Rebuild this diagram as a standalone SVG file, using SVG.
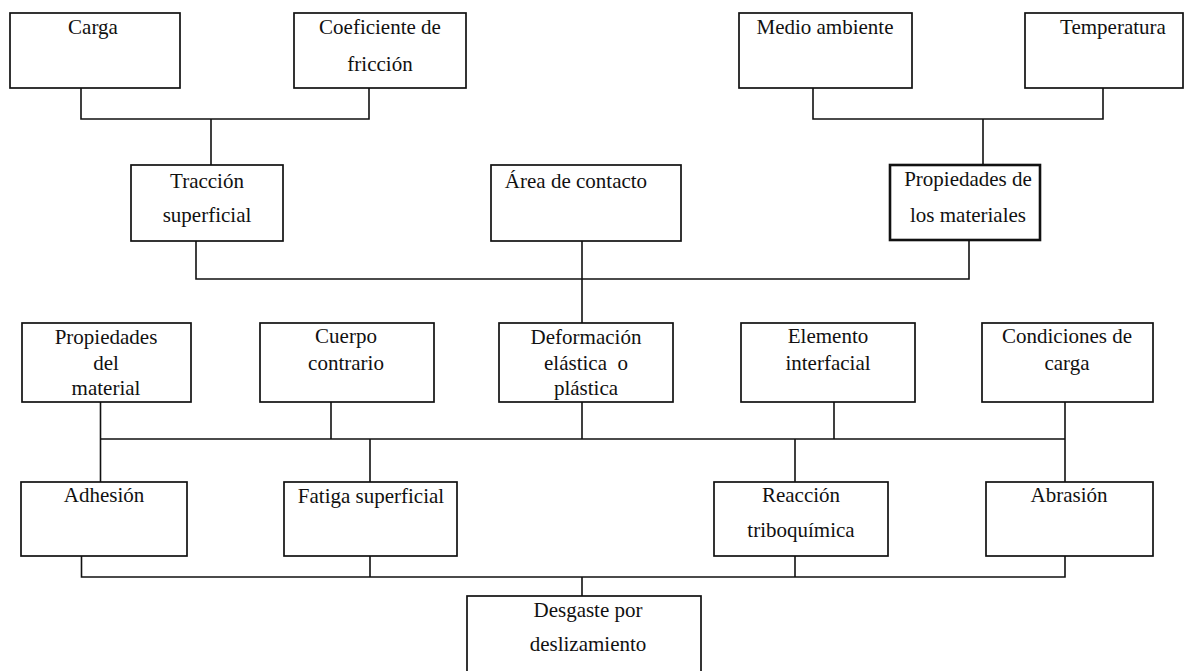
<svg xmlns="http://www.w3.org/2000/svg" width="1185" height="671" viewBox="0 0 1185 671">
<style>
.box{fill:#fff;stroke:#111;stroke-width:1.7}
.thick{stroke-width:2.6}
.ln{fill:none;stroke:#111;stroke-width:1.6}
text{font-family:"Liberation Serif","Times New Roman",serif;font-size:21px;fill:#111;text-anchor:middle}
</style>
<rect width="1185" height="671" fill="#fff"/>
<g id="connectors">
<path class="ln" d="M81,88V119H369V88M211,119V165"/>
<path class="ln" d="M813,88V119H1103V88M983,119V165"/>
<path class="ln" d="M196,241V279H969V240M582,241V323"/>
<path class="ln" d="M100.5,402V482M331,402V439M582,402V439M834,402V439M1065,402V482M100.5,439H1065M370,439V482M795,439V482"/>
<path class="ln" d="M81.5,556V577H1065V556M370,556V577M795,556V577M582,577V596"/>
</g>
<g id="carga"><rect class="box" x="10" y="13" width="170" height="75"/><text x="93" y="34">Carga</text></g>
<g id="coeficiente"><rect class="box" x="294" y="13" width="172" height="75"/><text x="380" y="34">Coeficiente de</text><text x="380" y="71">fricción</text></g>
<g id="medio"><rect class="box" x="739" y="13" width="173" height="75"/><text x="825" y="34">Medio ambiente</text></g>
<g id="temperatura"><rect class="box" x="1025" y="13" width="158" height="75"/><text x="1113" y="34">Temperatura</text></g>
<g id="traccion"><rect class="box" x="131" y="165" width="152" height="76"/><text x="207" y="188">Tracción</text><text x="207" y="222">superficial</text></g>
<g id="area"><rect class="box" x="491" y="165" width="190" height="76"/><text x="576" y="188">Área de contacto</text></g>
<g id="propiedades-materiales"><rect class="box thick" x="890" y="165" width="150" height="75"/><text x="968" y="186">Propiedades de</text><text x="968" y="222">los materiales</text></g>
<g id="propiedades-material"><rect class="box" x="22" y="323" width="169" height="79"/><text x="106" y="344">Propiedades</text><text x="106" y="370">del</text><text x="106" y="395">material</text></g>
<g id="cuerpo"><rect class="box" x="260" y="323" width="174" height="79"/><text x="346" y="343">Cuerpo</text><text x="346" y="370">contrario</text></g>
<g id="deformacion"><rect class="box" x="499" y="323" width="174" height="79"/><text x="586" y="344">Deformación</text><text x="586" y="370" xml:space="preserve">elástica  o</text><text x="586" y="395">plástica</text></g>
<g id="elemento"><rect class="box" x="741" y="323" width="174" height="79"/><text x="828" y="343">Elemento</text><text x="828" y="370">interfacial</text></g>
<g id="condiciones"><rect class="box" x="982" y="323" width="171" height="79"/><text x="1067" y="343">Condiciones de</text><text x="1067" y="370">carga</text></g>
<g id="adhesion"><rect class="box" x="21" y="482" width="166" height="74"/><text x="104" y="502">Adhesión</text></g>
<g id="fatiga"><rect class="box" x="284" y="482" width="173" height="74"/><text x="371" y="503">Fatiga superficial</text></g>
<g id="reaccion"><rect class="box" x="714" y="482" width="174" height="74"/><text x="801" y="502">Reacción</text><text x="801" y="537">triboquímica</text></g>
<g id="abrasion"><rect class="box" x="986" y="482" width="167" height="74"/><text x="1069" y="502">Abrasión</text></g>
<g id="desgaste"><rect class="box" x="467" y="596" width="234" height="95"/><text x="588" y="617">Desgaste por</text><text x="588" y="651">deslizamiento</text></g>
</svg>
